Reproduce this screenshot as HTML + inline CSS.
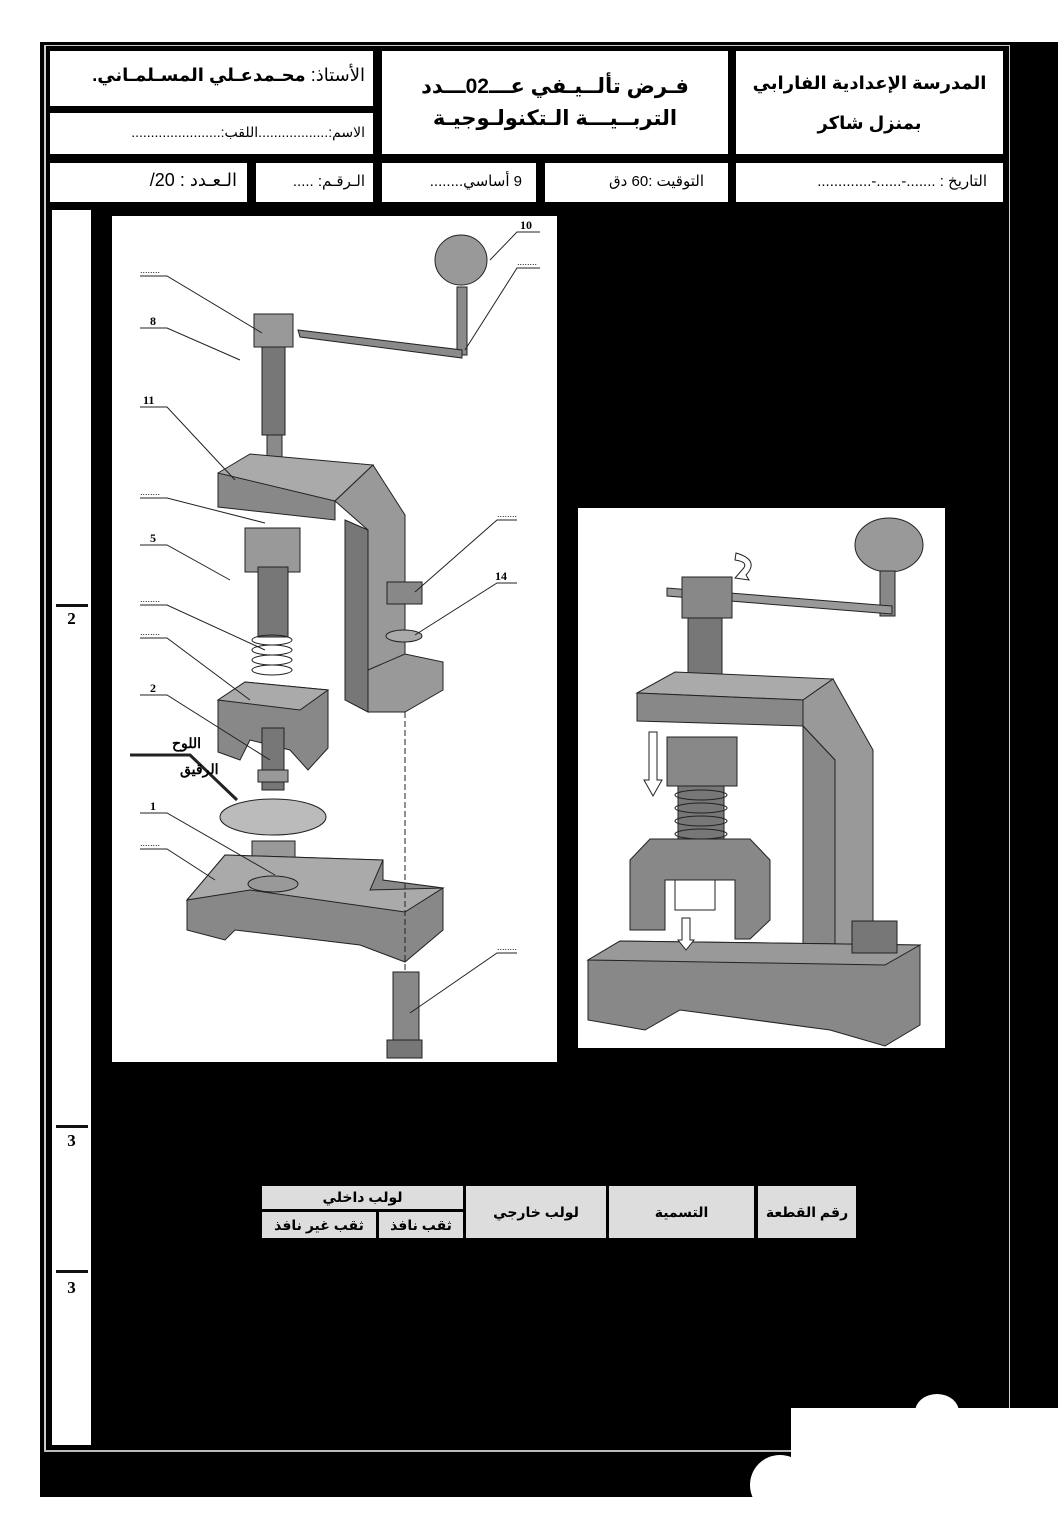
<!DOCTYPE html>
<html><head><meta charset="utf-8"><style>
*{margin:0;padding:0;box-sizing:border-box}
body{width:1058px;height:1497px;position:relative;background:#fff;overflow:hidden;font-family:"Liberation Serif","Noto Sans CJK SC",serif}
.a{position:absolute}
.bx{position:absolute;background:#fff;direction:rtl;color:#000;white-space:nowrap;overflow:hidden}
.t{font-family:"Liberation Sans","DejaVu Sans",sans-serif}
.c{display:flex;align-items:center;justify-content:center;text-align:center}
.cell{position:absolute;background:#ddd;font-family:"Liberation Sans","DejaVu Sans",sans-serif;font-weight:bold;font-size:14px;display:flex;align-items:center;justify-content:center;direction:rtl;white-space:nowrap}
</style></head><body>
<div class="a" style="left:40px;top:42px;width:1018px;height:1455px;background:#000"></div>
<div class="a" style="left:44px;top:45px;width:965px;height:1px;background:#ccc"></div>
<div class="a" style="left:44px;top:45px;width:2px;height:1407px;background:#ccc"></div>
<div class="a" style="left:1009px;top:45px;width:1px;height:1407px;background:#ccc"></div>
<div class="a" style="left:44px;top:1450px;width:748px;height:2px;background:#bbb"></div>

<div class="bx t" style="left:50px;top:51px;width:323px;height:55px;font-size:18px;padding:14px 8px 0 0"><span>الأستاذ: </span><b>محـمدعـلي المسـلمـاني.</b></div>
<div class="bx t" style="left:50px;top:113px;width:323px;height:41px;font-size:14px;padding:11px 8px 0 0">الاسم:..................اللقب:.......................</div>
<div class="bx t c" style="left:382px;top:51px;width:346px;height:103px;font-size:21px;font-weight:bold;flex-direction:column;line-height:32px">فـرض تألــيـفي عـــ02ـــدد<br>التربــيـــة الـتكنولـوجيـة</div>
<div class="bx t c" style="left:736px;top:51px;width:267px;height:103px;font-size:18px;font-weight:bold;flex-direction:column;line-height:40px">المدرسة الإعدادية الفارابي<br>بمنزل شاكر</div>

<div class="bx t" style="left:50px;top:163px;width:197px;height:39px;font-size:18px;padding:7px 10px 0 0">الـعـدد : 20/</div>
<div class="bx t" style="left:256px;top:163px;width:117px;height:39px;font-size:15px;padding:9px 8px 0 0">الـرقـم: .....</div>
<div class="bx t" style="left:382px;top:163px;width:154px;height:39px;font-size:15px;padding:9px 14px 0 0">9 أساسي........</div>
<div class="bx t" style="left:545px;top:163px;width:183px;height:39px;font-size:15px;padding:9px 24px 0 0">التوقيت :60 دق</div>
<div class="bx t" style="left:736px;top:163px;width:267px;height:39px;font-size:15px;padding:9px 16px 0 0">التاريخ : .......-......-.............</div>

<div class="a" style="left:52px;top:210px;width:39px;height:1235px;background:#fff"></div>
<div class="a" style="left:56px;top:604px;width:32px;height:3px;background:#111"></div>
<div class="a c" style="left:52px;top:608px;width:39px;height:22px;font-weight:bold;font-size:17px">2</div>
<div class="a" style="left:56px;top:1125px;width:32px;height:3px;background:#111"></div>
<div class="a c" style="left:52px;top:1130px;width:39px;height:22px;font-weight:bold;font-size:17px">3</div>
<div class="a" style="left:56px;top:1270px;width:32px;height:3px;background:#111"></div>
<div class="a c" style="left:52px;top:1277px;width:39px;height:22px;font-weight:bold;font-size:17px">3</div>

<svg class="a" style="left:0;top:0" width="1058" height="1497">
<rect x="112" y="216" width="445" height="846" fill="#fff"/>
<g stroke="#222" stroke-width="1" fill="#8a8a8a">
 <ellipse cx="461" cy="260" rx="26" ry="25" fill="#999"/>
 <rect x="457" y="287" width="10" height="68"/>
 <polygon points="298,330 300,337 462,358 462,350"/>
 <rect x="254" y="314" width="39" height="33" fill="#999"/>
 <rect x="262" y="347" width="23" height="88" fill="#777"/>
 <rect x="267" y="435" width="15" height="33"/>
 <polygon points="218,473 250,454 373,465 335,501 218,487" fill="#aaa"/>
 <polygon points="218,473 335,501 335,520 218,507" fill="#888"/>
 <polygon points="335,501 373,465 405,515 405,712 368,712 368,530" fill="#999"/>
 <polygon points="345,520 368,530 368,712 345,700" fill="#777"/>
 <polygon points="368,670 405,654 443,662 443,690 405,712 368,712" fill="#999"/>
 <rect x="387" y="582" width="35" height="22" fill="#888"/>
 <ellipse cx="404" cy="636" rx="18" ry="6" fill="#aaa"/>
 <rect x="245" y="528" width="55" height="44" fill="#999"/>
 <rect x="258" y="567" width="30" height="70" fill="#777"/>
 <ellipse cx="272" cy="640" rx="20" ry="5" fill="none"/><ellipse cx="272" cy="650" rx="20" ry="5" fill="none"/><ellipse cx="272" cy="660" rx="20" ry="5" fill="none"/><ellipse cx="272" cy="670" rx="20" ry="5" fill="none"/>
 <polygon points="218,700 245,682 328,690 328,748 308,770 290,750 250,740 240,760 218,752" fill="#888"/>
 <polygon points="218,700 245,682 328,690 300,710" fill="#aaa"/>
 <rect x="262" y="728" width="22" height="62" fill="#777"/>
 <rect x="258" y="770" width="30" height="12" fill="#999"/>
 <ellipse cx="273" cy="817" rx="53" ry="18" fill="#bbb"/>
 <rect x="252" y="841" width="43" height="40" fill="#999"/>
 <polygon points="187,900 225,855 383,860 383,880 443,888 443,930 405,962 360,945 235,930 225,940 187,930" fill="#888"/>
 <polygon points="187,900 225,855 383,860 370,890 443,888 405,912 250,890" fill="#aaa"/>
 <ellipse cx="273" cy="884" rx="25" ry="8" fill="#999"/>
 <rect x="393" y="972" width="26" height="72" fill="#888"/>
 <rect x="387" y="1040" width="35" height="18" fill="#777"/>
</g>
<line x1="405" y1="712" x2="405" y2="972" stroke="#222" stroke-dasharray="6,3"/>
<g stroke="#222" stroke-width="1" fill="none">
 <polyline points="140,276 167,276 262,333"/><polyline points="140,328 167,328 240,360"/>
 <polyline points="140,407 167,407 235,480"/><polyline points="140,498 167,498 265,523"/>
 <polyline points="140,545 167,545 230,580"/><polyline points="140,605 167,605 265,650"/>
 <polyline points="140,638 167,638 250,700"/><polyline points="140,695 167,695 270,760"/>
 <polyline points="140,813 167,813 275,875"/><polyline points="140,849 167,849 215,880"/>
 <polyline points="540,232 517,232 490,260"/><polyline points="540,268 517,268 465,350"/>
 <polyline points="517,520 497,520 415,592"/><polyline points="517,583 497,583 415,635"/>
 <polyline points="517,953 497,953 410,1013"/>
 <polyline points="130,755 190,755 237,800" stroke-width="3"/>
</g>
<g font-family="Liberation Serif" font-weight="bold" font-size="12" fill="#000">
 <text x="150" y="325">8</text><text x="143" y="404">11</text><text x="150" y="542">5</text>
 <text x="150" y="692">2</text><text x="150" y="810">1</text><text x="520" y="229">10</text><text x="495" y="580">14</text>
</g>
<g font-family="Liberation Sans" font-size="9" fill="#000">
 <text x="140" y="273">........</text><text x="140" y="495">........</text><text x="140" y="602">........</text>
 <text x="140" y="635">........</text><text x="140" y="846">........</text><text x="517" y="265">........</text>
 <text x="497" y="517">........</text><text x="497" y="950">........</text>
</g>
<text x="172" y="748" text-anchor="end" direction="rtl" font-family="Liberation Sans" font-weight="bold" font-size="14">اللوح</text>
<text x="180" y="774" text-anchor="end" direction="rtl" font-family="Liberation Sans" font-weight="bold" font-size="14">الرقيق</text>

<rect x="578" y="508" width="367" height="540" fill="#fff"/>
<g stroke="#222" stroke-width="1" fill="#8a8a8a">
 <ellipse cx="889" cy="545" rx="34" ry="27" fill="#999"/>
 <rect x="880" y="571" width="15" height="45" fill="#888"/>
 <polygon points="667,588 667,596 892,614 892,606" fill="#999"/>
 <rect x="682" y="577" width="50" height="41" fill="#888"/>
 <rect x="688" y="618" width="34" height="70" fill="#777"/>
 <polygon points="637,693 675,672 833,679 803,700" fill="#aaa"/>
 <polygon points="637,693 803,700 803,726 637,721" fill="#888"/>
 <polygon points="803,700 833,679 873,750 873,960 835,993 835,760 803,726" fill="#999"/>
 <polygon points="803,726 835,760 835,993 803,993" fill="#888"/>
 <rect x="667" y="737" width="70" height="49" fill="#888"/>
 <rect x="678" y="786" width="46" height="58" fill="#777"/>
 <ellipse cx="701" cy="795" rx="26" ry="5" fill="none"/><ellipse cx="701" cy="808" rx="26" ry="5" fill="none"/><ellipse cx="701" cy="821" rx="26" ry="5" fill="none"/><ellipse cx="701" cy="834" rx="26" ry="5" fill="none"/>
 <polygon points="630,860 650,839 750,839 770,860 770,920 750,939 735,939 735,880 665,880 665,930 630,930" fill="#888"/>
 <rect x="675" y="880" width="40" height="30" fill="#fff"/>
 <ellipse cx="697" cy="955" rx="69" ry="12" fill="#bbb"/>
 <polygon points="588,960 620,941 920,945 920,1025 885,1046 830,1030 680,1010 645,1030 588,1020" fill="#888"/>
 <polygon points="588,960 620,941 920,945 885,965" fill="#999"/>
 <rect x="852" y="921" width="45" height="32" fill="#777"/>
</g>
<g stroke="#222" fill="#fff">
 <polygon points="649,732 657,732 657,780 662,780 653,796 644,780 649,780"/>
 <polygon points="682,918 690,918 690,940 694,940 686,950 678,940 682,940"/>
 <path d="M736,553 Q760,560 746,575 L749,580 L735,578 L742,570 Q750,562 735,560Z"/>
</g>
</svg>

<div class="cell" style="left:262px;top:1186px;width:201px;height:23px">لولب داخلي</div>
<div class="cell" style="left:262px;top:1212px;width:114px;height:26px">ثقب غير نافذ</div>
<div class="cell" style="left:379px;top:1212px;width:84px;height:26px">ثقب نافذ</div>
<div class="cell" style="left:466px;top:1186px;width:140px;height:52px">لولب خارجي</div>
<div class="cell" style="left:609px;top:1186px;width:145px;height:52px">التسمية</div>
<div class="cell" style="left:758px;top:1186px;width:98px;height:52px">رقم القطعة</div>

<div class="a" style="left:791px;top:1408px;width:267px;height:89px;background:#fff"></div>
<div class="a" style="left:915px;top:1394px;width:44px;height:36px;border-radius:50%;background:#fff"></div>
<div class="a" style="left:750px;top:1455px;width:60px;height:60px;border-radius:50%;background:#fff"></div>
</body></html>
